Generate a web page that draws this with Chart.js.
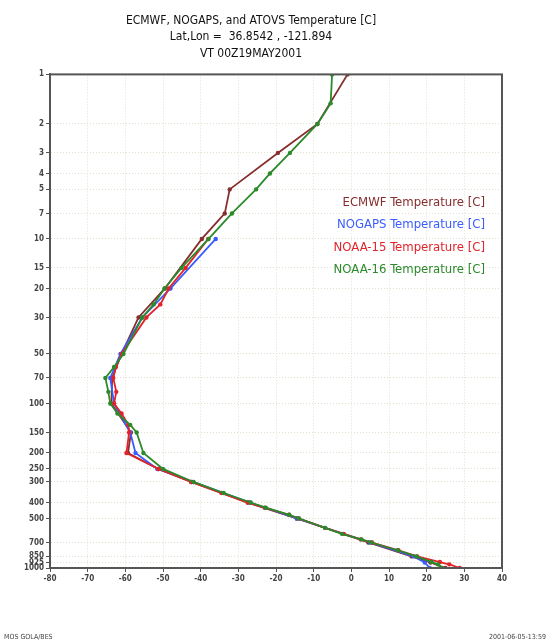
<!DOCTYPE html>
<html>
<head>
<meta charset="utf-8">
<script src="https://cdn.jsdelivr.net/npm/chart.js@4.4.0/dist/chart.umd.min.js"></script>
<style>
  html, body { margin: 0; padding: 0; background: #fff; }
  #wrap { width: 550px; height: 643px; }
</style>
</head>
<body>
<div id="wrap"><canvas id="mychart" width="550" height="643"></canvas></div>
<script>
// pressure levels (hPa) shown on the y axis
const pressureTicks = [1, 2, 3, 4, 5, 7, 10, 15, 20, 30, 50, 70, 100, 150, 200, 250, 300, 400, 500, 700, 850, 925, 1000];

// ECMWF analysis
const ecmwfLevels = [1, 2, 3, 5, 7, 10, 20, 30, 50, 70, 100, 150, 200, 250, 300, 400, 500, 700, 850, 925, 1000];
const ecmwfTemps = [-1, -9, -19.5, -32.3, -33.6, -39.7, -49.5, -56.5, -61, -63.5, -63.7, -58.5, -59.3, -51.2, -42.5, -27.5, -14.5, 4.5, 16, 21, 25];

// NOGAPS analysis
const nogapsLevels = [10, 20, 30, 50, 70, 100, 150, 200, 250, 300, 400, 500, 700, 850, 925, 1000];
const nogapsTemps = [-36, -48, -55.5, -61.3, -64, -63, -58.7, -57.3, -51.5, -42, -27, -14.5, 5, 16.5, 19.5, 20.8];

// NOAA-15 ATOVS retrieval
const noaa15Levels = [10, 15, 20, 25, 30, 50, 60, 70, 85, 100, 115, 135, 150, 200, 250, 300, 350, 400, 430, 475, 500, 570, 620, 670, 700, 780, 850, 920, 950, 1000];
const noaa15Temps = [-38, -44, -48.5, -50.7, -54.4, -61, -62.5, -63.2, -62.4, -63, -61, -59.2, -59, -59.7, -51.2, -42.5, -34.5, -27.5, -23, -16.5, -14, -7, -2, 2.5, 5.5, 12.5, 17.5, 23.5, 26, 28.8];

// NOAA-16 ATOVS retrieval
const noaa16Levels = [1, 1.5, 2, 3, 4, 5, 7, 10, 15, 20, 25, 30, 50, 60, 70, 85, 100, 115, 135, 150, 200, 250, 300, 350, 400, 430, 475, 500, 570, 620, 670, 700, 780, 850, 920, 950, 1000];
const noaa16Temps = [-5.1, -5.5, -9, -16.3, -21.6, -25.3, -31.7, -37.9, -45.1, -49.6, -52.5, -55.5, -60.5, -63, -65.3, -64.5, -64, -62.1, -58.7, -57, -55.2, -50, -41.9, -33.9, -26.7, -22.7, -16.5, -13.9, -7, -2.5, 2.7, 5.3, 12.3, 17.3, 21.3, 23, 24];

const titleLines = ['ECMWF, NOGAPS, and ATOVS Temperature [C]', 'Lat,Lon =  36.8542 , -121.894', 'VT 00Z19MAY2001'];
const footerLeft = 'MOS GOLA/BES';
const footerRight = '2001-06-05-13:59';

const FONT = '"DejaVu Sans Condensed", "Liberation Sans Narrow", "DejaVu Sans", sans-serif';

const profile = (levels, temps) => levels.map((p, i) => ({ x: temps[i], y: p }));

const makeSet = (label, levels, temps, color, order) => ({
    label: label,
    data: profile(levels, temps),
    borderColor: color,
    backgroundColor: color,
    borderWidth: 1.8,
    pointRadius: 2.2,
    pointBorderWidth: 0,
    showLine: true,
    order: order
});

// text legend inside the plot + frame + footer
const extras = {
    id: 'extras',
    afterDraw(chart) {
        const ctx = chart.ctx;
        const a = chart.chartArea;
        ctx.save();
        ctx.strokeStyle = '#555';
        ctx.lineWidth = 2;
        ctx.strokeRect(a.left, a.top, a.right - a.left, a.bottom - a.top);

        ctx.font = '13px ' + FONT;
        ctx.textAlign = 'right';
        ctx.textBaseline = 'middle';
        chart.data.datasets.forEach((ds, i) => {
            ctx.fillStyle = ds.borderColor;
            ctx.fillText(ds.label, a.right - 17, a.top + 128 + i * 22.5);
        });

        ctx.font = '7px ' + FONT;
        ctx.fillStyle = '#444';
        ctx.textAlign = 'left';
        ctx.fillText(footerLeft, 4, 637);
        ctx.textAlign = 'right';
        ctx.fillText(footerRight, 546, 637);
        ctx.restore();
    }
};

const tickFont = { family: FONT, size: 8, weight: 'bold' };

const ctx = document.getElementById('mychart').getContext('2d');
let myChart = new Chart(ctx, {
    type: 'scatter',
    data: {
        datasets: [
            makeSet('ECMWF Temperature [C]', ecmwfLevels, ecmwfTemps, '#862d2d', 3),
            makeSet('NOGAPS Temperature [C]', nogapsLevels, nogapsTemps, '#3a5cff', 2),
            makeSet('NOAA-15 Temperature [C]', noaa15Levels, noaa15Temps, '#e2232b', 1),
            makeSet('NOAA-16 Temperature [C]', noaa16Levels, noaa16Temps, '#2b8a2b', 0)
        ]
    },
    options: {
        responsive: false,
        animation: false,
        layout: { padding: { left: 0, right: 48, top: 0, bottom: 0 } },
        plugins: {
            legend: { display: false },
            tooltip: { enabled: false },
            title: {
                display: true,
                text: titleLines,
                color: '#111',
                font: { family: FONT, size: 12, weight: 'normal', lineHeight: 1.4 },
                padding: { top: 12, bottom: 12 }
            }
        },
        scales: {
            x: {
                type: 'linear',
                min: -80,
                max: 40,
                ticks: { stepSize: 10, color: '#444', font: tickFont, padding: 2 },
                grid: { color: '#e0e0cc', tickLength: 4, tickColor: '#555' },
                border: { color: '#555', width: 2, dash: [1, 2] },
                afterFit: s => { s.height = 75; }
            },
            y: {
                type: 'logarithmic',
                reverse: true,
                min: 1,
                max: 1000,
                afterBuildTicks: s => { s.ticks = pressureTicks.map(v => ({ value: v })); },
                ticks: { autoSkip: false, color: '#444', font: tickFont, padding: 2, callback: v => String(v) },
                grid: { color: '#e0e0cc', tickLength: 4, tickColor: '#555' },
                border: { color: '#555', width: 2, dash: [1, 2] },
                afterFit: s => { s.width = 50; }
            }
        }
    },
    plugins: [extras]
});
</script>
</body>
</html>
